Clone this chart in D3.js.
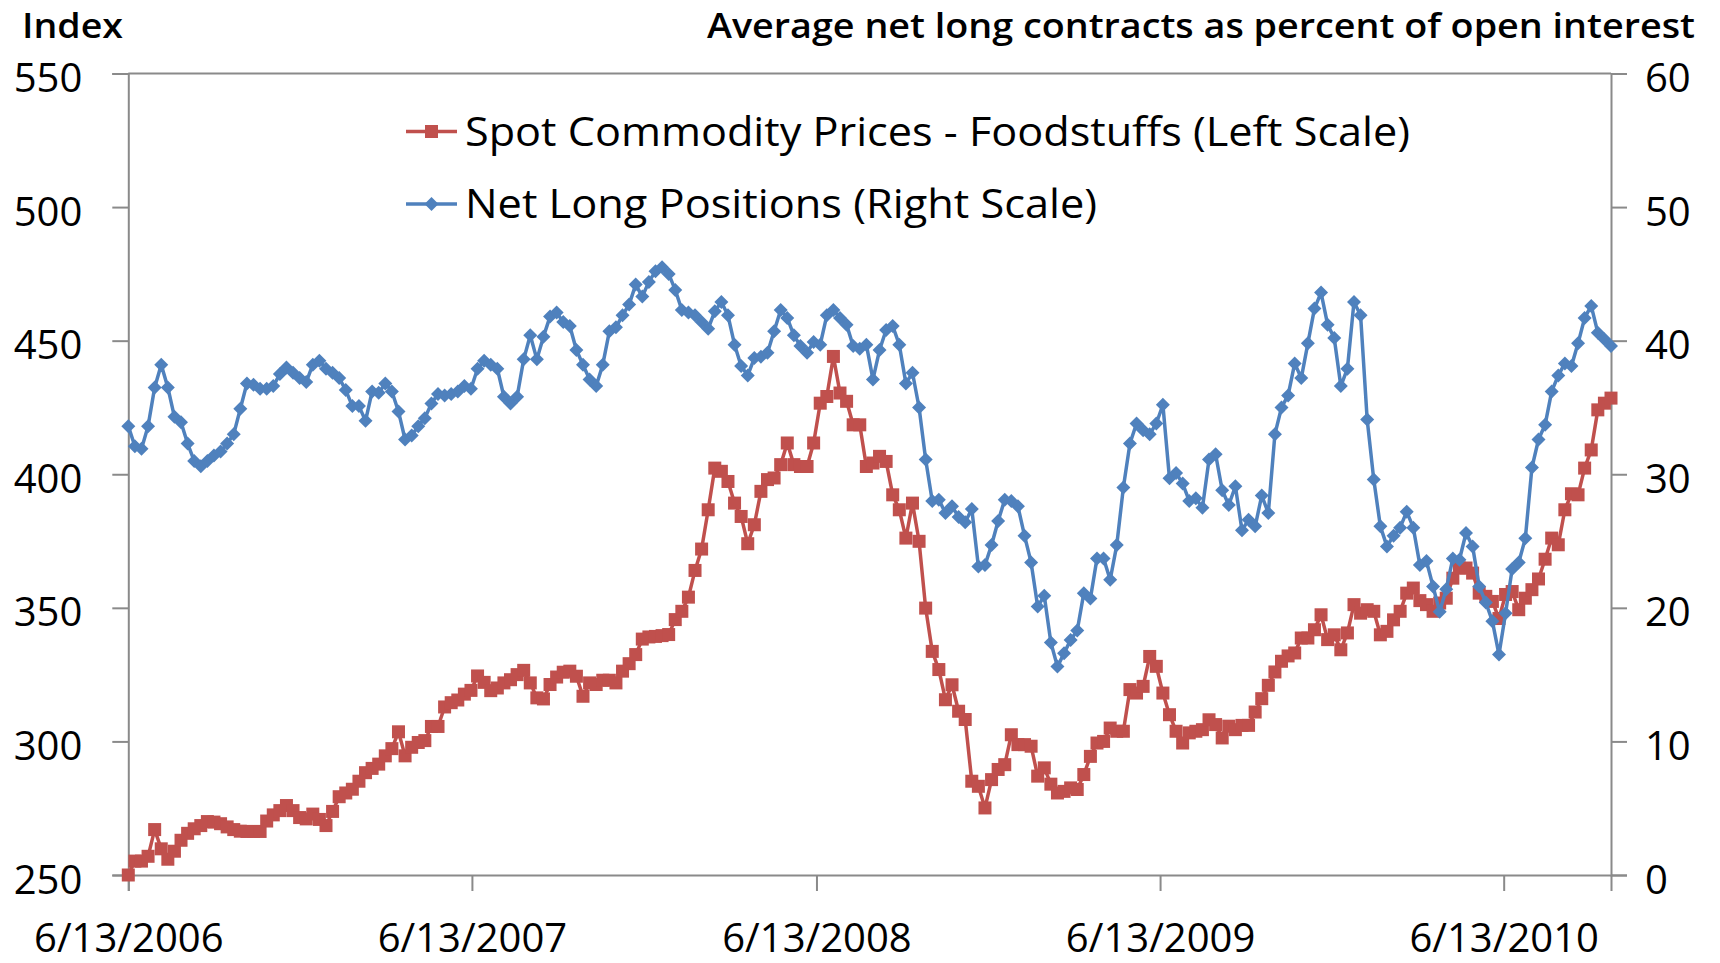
<!DOCTYPE html>
<html lang="en">
<head>
<meta charset="utf-8">
<title>Foodstuffs and Net Long Positions</title>
<script src="https://d3js.org/d3.v7.min.js"></script>
<style>
  body { margin: 0; background: #fff; }
  .tick-label { font-family: "Open Sans", sans-serif; font-size: 40px; fill: #000; }
  .title { font-family: "Open Sans", sans-serif; font-weight: 600; font-size: 34px; fill: #000; }
  .legend text { font-family: "Open Sans", sans-serif; font-size: 40px; fill: #000; }
</style>
</head>
<body>
<div id="chart"></div>
<script>
// weekly observations, first one on 6/13/2006
var startDate = new Date(2006, 5, 13);

// Spot Commodity Prices - Foodstuffs (left scale, index)
var foodstuffs = [
  250, 255.2, 255.2, 257, 267, 259.8, 255.9, 258.9, 263, 265.6,
  267.3, 268.5, 270, 269.8, 269.2, 268, 267, 266.4, 266.3, 266.3,
  266.3, 270.2, 272.5, 274.1, 276, 274.1, 271.5, 271, 272.8, 270.8,
  268.5, 273.8, 279.3, 280.7, 282.1, 285.1, 288.3, 289.9, 291.5, 294.6,
  297.3, 303.6, 294.6, 297.8, 299.6, 300.3, 305.6, 305.6, 312.9, 314.5,
  315.5, 317.7, 319.1, 324.5, 322.1, 319, 320, 321.9, 323.1, 325,
  326.6, 321.9, 316.3, 315.9, 321.3, 324.1, 325.9, 326.3, 324.4, 316.9,
  321.9, 321.3, 322.9, 322.9, 321.9, 326.3, 329.1, 332.5, 338.3, 339.1,
  339.3, 339.6, 340, 345.6, 348.7, 354, 364, 372, 386.7, 402.3,
  401.1, 397.3, 389.2, 384.2, 374, 381.1, 393.6, 398, 398.6, 403.6,
  411.7, 403.6, 402.9, 402.9, 411.7, 426.6, 429.1, 444.1, 430.4, 427.3,
  418.5, 418.5, 402.9, 404.2, 406.7, 404.8, 392.3, 386.7, 376.1, 389.2,
  374.9, 349.9, 333.7, 326.9, 315.6, 321.2, 311.3, 308.2, 285.1, 283.2,
  275.1, 285.7, 289.5, 291.3, 302.5, 298.8, 298.8, 298.2, 287, 290.1,
  284, 280.7, 281.3, 282.6, 282, 287.6, 294.4, 299.4, 300, 305,
  303.8, 303.8, 319.4, 318.1, 320.6, 331.8, 328.1, 318.1, 310, 303.8,
  299.4, 303.2, 303.8, 304.4, 308.1, 306.3, 301.3, 305.7, 304.4, 306,
  306, 311, 316, 321, 326, 330, 332, 333.1, 338.7, 338.7,
  341.8, 347.4, 338.1, 339.9, 334.3, 340.6, 351.2, 348, 349.3, 348.7,
  339.9, 341.2, 345.5, 348.7, 355.5, 357.4, 352.7, 351.2, 348.7, 351.8,
  353.6, 361.1, 364.9, 364.9, 363, 355.5, 354.3, 352.4, 346, 355,
  356.1, 349.3, 353.6, 356.8, 360.8, 368.2, 376.1, 373.6, 386.7, 392.7,
  392.3, 402.3, 409.1, 424.1, 426.6, 428.5
];

// Net Long Positions (right scale, percent of open interest)
var netLong = [
  33.6, 32.1, 31.9, 33.6, 36.5, 38.2, 36.5, 34.3, 33.9, 32.3,
  31.0, 30.6, 31.0, 31.4, 31.7, 32.3, 33.0, 34.9, 36.8, 36.7,
  36.4, 36.4, 36.6, 37.5, 38.0, 37.6, 37.2, 36.9, 38.2, 38.5,
  37.9, 37.6, 37.2, 36.3, 35.1, 35.1, 34.0, 36.2, 36.1, 36.8,
  36.2, 34.7, 32.6, 32.9, 33.6, 34.2, 35.3, 36.0, 35.9, 36.0,
  36.2, 36.6, 36.4, 37.9, 38.5, 38.2, 37.9, 35.8, 35.3, 35.8,
  38.6, 40.4, 38.6, 40.3, 41.8, 42.1, 41.4, 41.1, 39.3, 38.2,
  37.1, 36.6, 38.2, 40.7, 41.0, 41.9, 42.7, 44.2, 43.3, 44.4,
  45.2, 45.5, 45.0, 43.8, 42.3, 42.1, 41.9, 41.4, 40.9, 42.2,
  42.9, 41.9, 39.7, 38.1, 37.4, 38.7, 38.8, 39.1, 40.7, 42.3,
  41.7, 40.4, 39.6, 39.1, 39.9, 39.7, 41.9, 42.3, 41.7, 41.2,
  39.6, 39.4, 39.7, 37.1, 39.3, 40.8, 41.1, 39.7, 36.8, 37.6,
  35.0, 31.1, 28.0, 28.1, 27.1, 27.6, 26.8, 26.4, 27.4, 23.1,
  23.2, 24.7, 26.5, 28.1, 28.0, 27.6, 25.4, 23.4, 20.1, 20.9,
  17.4, 15.6, 16.6, 17.6, 18.3, 21.1, 20.7, 23.7, 23.7, 22.1,
  24.7, 29.0, 32.3, 33.8, 33.3, 33.0, 33.8, 35.2, 29.7, 30.1,
  29.3, 28.0, 28.2, 27.5, 31.1, 31.5, 28.8, 27.7, 29.1, 25.8,
  26.6, 26.1, 28.4, 27.1, 33.0, 35.0, 35.9, 38.3, 37.2, 39.8,
  42.4, 43.6, 41.2, 40.2, 36.6, 37.9, 42.9, 41.9, 34.1, 29.6,
  26.1, 24.6, 25.4, 26.0, 27.2, 26.0, 23.2, 23.5, 21.6, 19.7,
  21.4, 23.7, 23.6, 25.6, 24.6, 21.6, 20.4, 19.0, 16.5, 19.6,
  22.9, 23.4, 25.2, 30.5, 32.6, 33.7, 36.2, 37.4, 38.3, 38.1,
  39.8, 41.7, 42.6, 40.6, 40.1, 39.6
];

var leftTicks = [250, 300, 350, 400, 450, 500, 550];
var rightTicks = [0, 10, 20, 30, 40, 50, 60];
var dateTicks = ["6/13/2006", "6/13/2007", "6/13/2008", "6/13/2009", "6/13/2010"];
var seriesNames = ["Spot Commodity Prices - Foodstuffs (Left Scale)", "Net Long Positions (Right Scale)"];

var red = "#C0504D", blue = "#4F81BD", axisColor = "#8a8a8a";

var margin = {top: 73.5, right: 109, bottom: 88, left: 128.3},
    width = 1720 - margin.left - margin.right,
    height = 963 - margin.top - margin.bottom;

var parseDate = d3.timeParse("%m/%d/%Y");
var fmtDate = d3.timeFormat("%-m/%-d/%Y");

var n = Math.min(foodstuffs.length, netLong.length);
var data = d3.range(n).map(function(i) {
  return {date: d3.timeDay.offset(startDate, 7 * i), food: foodstuffs[i], pos: netLong[i]};
});

var svg = d3.select("#chart").append("svg")
    .attr("width", 1720)
    .attr("height", 963);

var g = svg.append("g")
    .attr("transform", "translate(" + margin.left + "," + margin.top + ")");

var x = d3.scaleTime()
    .domain([startDate, data[n - 1].date])
    .range([0, width]);

var yL = d3.scaleLinear().domain([250, 550]).range([height, 0]);
var yR = d3.scaleLinear().domain([0, 60]).range([height, 0]);

// axes
var axisL = g.append("g")
    .call(d3.axisLeft(yL).tickValues(leftTicks).tickSize(16).tickPadding(30));
var axisR = g.append("g")
    .attr("transform", "translate(" + width + ",0)")
    .call(d3.axisRight(yR).tickValues(rightTicks).tickSize(16).tickPadding(18));
var axisB = g.append("g")
    .attr("transform", "translate(0," + height + ")")
    .call(d3.axisBottom(x).tickValues(dateTicks.map(parseDate)).tickFormat(fmtDate).tickSize(16).tickPadding(33));

[axisL, axisR, axisB].forEach(function(a) {
  a.select(".domain").attr("stroke", axisColor).attr("stroke-width", 2);
  a.selectAll(".tick line").attr("stroke", axisColor).attr("stroke-width", 2);
  a.selectAll(".tick text").attr("class", "tick-label").attr("font-size", null).attr("font-family", null);
});
axisL.selectAll(".tick text").attr("dy", "0.45em");
axisR.selectAll(".tick text").attr("dy", "0.45em");

// top border of plot area
g.append("line")
    .attr("x1", 0).attr("x2", width)
    .attr("y1", 0).attr("y2", 0)
    .attr("stroke", axisColor).attr("stroke-width", 2);

// titles
svg.append("text")
    .attr("class", "title")
    .attr("x", 22).attr("y", 38)
    .attr("textLength", 101).attr("lengthAdjust", "spacingAndGlyphs")
    .text("Index");
svg.append("text")
    .attr("class", "title")
    .attr("x", 1695).attr("y", 38)
    .style("text-anchor", "end")
    .attr("textLength", 988).attr("lengthAdjust", "spacingAndGlyphs")
    .text("Average net long contracts as percent of open interest");

// lines
var lineFood = d3.line().x(function(d) { return x(d.date); }).y(function(d) { return yL(d.food); });
var linePos = d3.line().x(function(d) { return x(d.date); }).y(function(d) { return yR(d.pos); });

function diamond(s) {
  return "M0," + (-s) + "L" + s + ",0L0," + s + "L" + (-s) + ",0Z";
}

var sq = 13, dm = 7;

g.append("path").datum(data)
    .attr("fill", "none").attr("stroke", red).attr("stroke-width", 3.5)
    .attr("stroke-linejoin", "round")
    .attr("d", lineFood);
g.append("g").selectAll("rect")
    .data(data).enter().append("rect")
    .attr("x", function(d) { return x(d.date) - sq / 2; })
    .attr("y", function(d) { return yL(d.food) - sq / 2; })
    .attr("width", sq).attr("height", sq)
    .attr("fill", red);

g.append("path").datum(data)
    .attr("fill", "none").attr("stroke", blue).attr("stroke-width", 3.5)
    .attr("stroke-linejoin", "round")
    .attr("d", linePos);
g.append("g").selectAll("path")
    .data(data).enter().append("path")
    .attr("transform", function(d) { return "translate(" + x(d.date) + "," + yR(d.pos) + ")"; })
    .attr("d", diamond(dm))
    .attr("fill", blue);

// legend
var legend = svg.append("g").attr("class", "legend");
var legendRows = [
  {name: seriesNames[0], color: red, y: 131.5, w: 945, mark: "square"},
  {name: seriesNames[1], color: blue, y: 204, w: 632, mark: "diamond"}
];
legendRows.forEach(function(r) {
  var lg = legend.append("g").attr("transform", "translate(0," + r.y + ")");
  lg.append("line").attr("x1", 406).attr("x2", 457).attr("y1", 0).attr("y2", 0)
      .attr("stroke", r.color).attr("stroke-width", 3.5);
  if (r.mark == "square") {
    lg.append("rect").attr("x", 431.5 - sq / 2).attr("y", -sq / 2).attr("width", sq).attr("height", sq).attr("fill", r.color);
  } else {
    lg.append("path").attr("transform", "translate(431.5,0)").attr("d", diamond(dm)).attr("fill", r.color);
  }
  lg.append("text").attr("x", 465).attr("y", 0).attr("dy", "0.36em")
      .attr("textLength", r.w).attr("lengthAdjust", "spacingAndGlyphs")
      .text(r.name);
});
</script>
</body>
</html>
